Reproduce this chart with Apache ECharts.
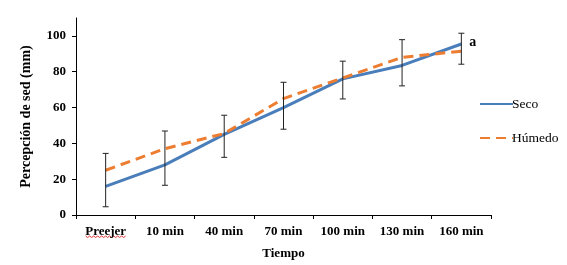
<!DOCTYPE html>
<html>
<head>
<meta charset="utf-8">
<script src="https://cdn.jsdelivr.net/npm/echarts@6/dist/echarts.min.js"></script>
<style>
  html, body { margin: 0; padding: 0; background: #fff; }
  #chart { width: 567px; height: 265px; }
</style>
</head>
<body>
<div id="chart"></div>
<script>
// datos
var categorias = ['Preejer', '10 min', '40 min', '70 min', '100 min', '130 min', '160 min'];
var seco = [16, 28, 45, 60, 76, 83.5, 95.5];
var humedo = [25, 37, 45.5, 65, 76.5, 88, 91.5];
var errorBajo = [4.6, 16.6, 32.2, 47.9, 64.8, 72.1, 84.2];
var errorAlto = [34.4, 46.9, 55.7, 74.1, 85.9, 97.9, 101.5];
var ticksY = [0, 20, 40, 60, 80, 100];
var letraFinal = 'a';

var fuente = 'Liberation Serif, Times New Roman, serif';

var myChart = echarts.init(document.getElementById('chart'));

var barras = categorias.map(function (c, i) { return [i, errorBajo[i], errorAlto[i]]; });

myChart.setOption({
  animation: false,
  grid: { left: 76, right: 76, top: 18, bottom: 50 },
  legend: {
    orient: 'vertical',
    left: 474,
    top: 92,
    itemWidth: 33,
    itemHeight: 10,
    itemGap: 20,
    itemStyle: { opacity: 0 },
    textStyle: { fontFamily: fuente, fontSize: 13.5, color: '#000', padding: [0, 0, 0, -6] },
    data: ['Seco', 'Húmedo']
  },
  xAxis: {
    type: 'category',
    data: categorias,
    boundaryGap: true,
    name: 'Tiempo',
    nameLocation: 'middle',
    nameGap: 32,
    nameTextStyle: { fontFamily: fuente, fontWeight: 'bold', fontSize: 13, color: '#000' },
    axisLine: { lineStyle: { color: '#000', width: 1 } },
    axisTick: { show: true, length: 4, inside: false, lineStyle: { color: '#000' } },
    axisLabel: { fontFamily: fuente, fontWeight: 'bold', fontSize: 13, color: '#000', margin: 10, interval: 0 }
  },
  yAxis: {
    type: 'value',
    min: 0,
    max: 110,
    interval: 20,
    name: 'Percepción de sed (mm)',
    nameLocation: 'middle',
    nameGap: 43,
    nameTextStyle: { fontFamily: fuente, fontWeight: 'bold', fontSize: 14, color: '#000' },
    axisLine: { show: true, lineStyle: { color: '#000', width: 1 } },
    axisTick: { show: true, length: 4, lineStyle: { color: '#000' } },
    splitLine: { show: false },
    axisLabel: {
      fontFamily: fuente, fontWeight: 'bold', fontSize: 13, color: '#000', margin: 10,
      showMaxLabel: false,
      formatter: function (v) { return ticksY.indexOf(v) >= 0 ? String(v) : ''; }
    }
  },
  series: [
    {
      name: 'Seco',
      type: 'line',
      data: seco,
      symbol: 'none',
      lineStyle: { color: '#4A7EBB', width: 3 },
      itemStyle: { color: '#4A7EBB' },
      z: 3
    },
    {
      name: 'Húmedo',
      type: 'line',
      data: humedo,
      symbol: 'none',
      lineStyle: { color: '#ED7D31', width: 3, type: [10, 6] },
      itemStyle: { color: '#ED7D31' },
      z: 4
    },
    {
      name: 'error',
      type: 'custom',
      data: barras,
      z: 5,
      renderItem: function (params, api) {
        var x = api.value(0);
        var lo = api.coord([x, api.value(1)]);
        var hi = api.coord([x, api.value(2)]);
        var w = 3;
        var st = { stroke: '#222', lineWidth: 1 };
        var hijos = [
          { type: 'line', shape: { x1: lo[0], y1: lo[1], x2: hi[0], y2: hi[1] }, style: st },
          { type: 'line', shape: { x1: hi[0] - w, y1: hi[1], x2: hi[0] + w, y2: hi[1] }, style: st },
          { type: 'line', shape: { x1: lo[0] - w, y1: lo[1], x2: lo[0] + w, y2: lo[1] }, style: st }
        ];
        if (params.dataIndex === categorias.length - 1) {
          hijos.push({
            type: 'text',
            style: {
              x: hi[0] + 8, y: hi[1] + 9, text: letraFinal, verticalAlign: 'middle',
              fontFamily: fuente, fontWeight: 'bold', fontSize: 14, fill: '#000'
            }
          });
        }
        return { type: 'group', children: hijos };
      }
    }
  ]
});

// subrayado ondulado rojo bajo "Preejer" (corrector ortografico)
var px = myChart.convertToPixel({ xAxisIndex: 0 }, categorias[0]);
var pts = [];
for (var k = 0; k <= 20; k++) {
  pts.push([px - 20 + k * 2, 236 + (k % 2 === 0 ? 0 : 1.5)]);
}
myChart.setOption({
  graphic: [{ type: 'polyline', shape: { points: pts }, style: { stroke: '#E03030', lineWidth: 1, fill: null }, silent: true }]
});
</script>
</body>
</html>
